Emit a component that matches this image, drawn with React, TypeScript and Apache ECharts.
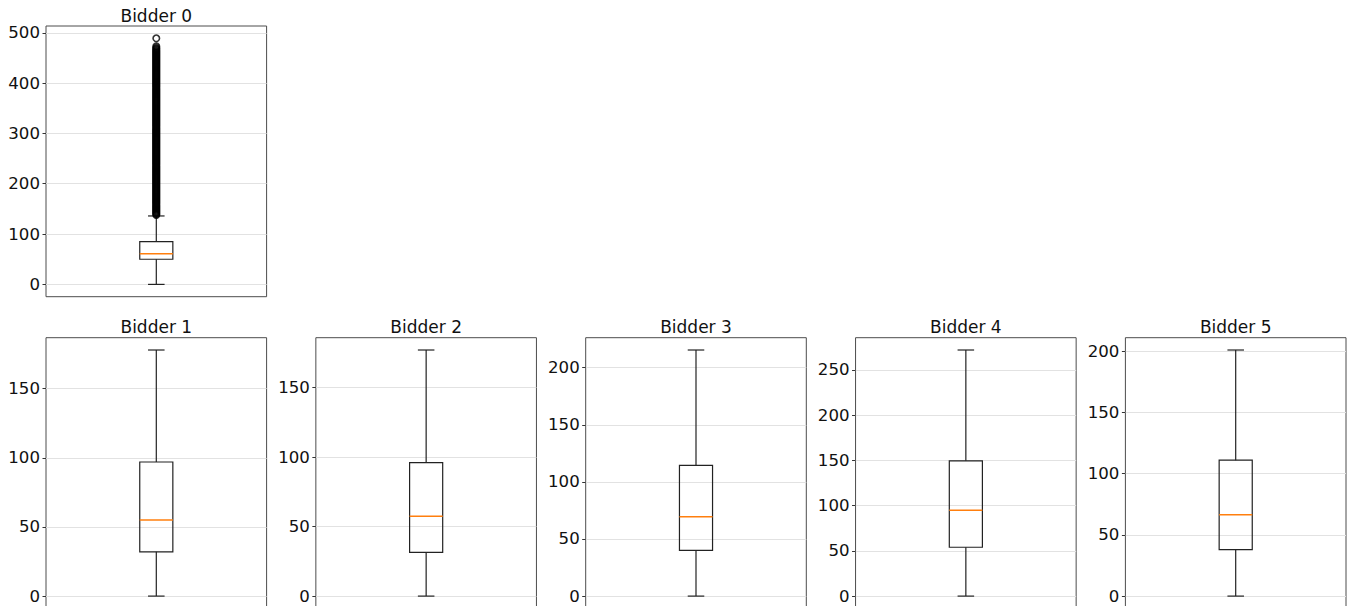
import React, { useEffect, useRef } from "react";
import * as echarts from "echarts";

// Box statistics: [min whisker, q1, median, q3, max whisker]
const bidderNames = ["Bidder 0", "Bidder 1", "Bidder 2", "Bidder 3", "Bidder 4", "Bidder 5"];
const box0 = [0, 50, 61, 85, 136];
const box1 = [0, 32, 55, 97, 178];
const box2 = [0, 31.5, 57.5, 96, 177];
const box3 = [0, 40, 69.5, 114.5, 215.5];
const box4 = [0, 54, 95, 149.5, 272];
const box5 = [0, 38, 66.5, 111, 201];

// Outliers of Bidder 0 (a dense cloud above the upper whisker)
const outliers0 = [
  138, 140, 142, 144, 146, 148, 150, 152, 154, 156, 158, 160, 162, 164, 166,
  168, 170, 172, 174, 176, 178, 180, 182, 184, 186, 188, 190, 192, 194, 196,
  198, 200, 202, 204, 206, 208, 210, 212, 214, 216, 218, 220, 222, 224, 226,
  228, 230, 232, 234, 236, 238, 240, 242, 244, 246, 248, 250, 252, 254, 256,
  258, 260, 262, 264, 266, 268, 270, 272, 274, 276, 278, 280, 282, 284, 286,
  288, 290, 292, 294, 296, 298, 300, 302, 304, 306, 308, 310, 312, 314, 316,
  318, 320, 322, 324, 326, 328, 330, 332, 334, 336, 338, 340, 342, 344, 346,
  348, 350, 352, 354, 356, 358, 360, 362, 364, 366, 368, 370, 372, 374, 376,
  378, 380, 382, 384, 386, 388, 390, 392, 394, 396, 398, 400, 402, 404, 406,
  408, 410, 412, 414, 416, 418, 420, 422, 424, 426, 428, 430, 432, 434, 436,
  438, 440, 442, 444, 446, 448, 450, 452, 454, 456, 458, 460, 462, 464, 466,
  468, 470, 473, 489,
];

// Tick labels for each subplot
const ticks0 = [0, 100, 200, 300, 400, 500];
const ticks1 = [0, 50, 100, 150];
const ticks2 = [0, 50, 100, 150];
const ticks3 = [0, 50, 100, 150, 200];
const ticks4 = [0, 50, 100, 150, 200, 250];
const ticks5 = [0, 50, 100, 150, 200];

const boxes = [box0, box1, box2, box3, box4, box5];
const outlierSets = [outliers0, [], [], [], [], []];
const tickSets = [ticks0, ticks1, ticks2, ticks3, ticks4, ticks5];

const FONT = "DejaVu Sans";

export default function App() {
  const ref = useRef<HTMLDivElement>(null);

  useEffect(() => {
    document.body.style.margin = "0";
    const chart = echarts.init(ref.current!, null, { renderer: "svg" });

    const axW = 220.6;
    const axH = 270.7;
    const colStep = 269.85;
    const layouts = [
      { left: 46, top: 26 },
      { left: 46, top: 337.7 },
      { left: 46 + colStep, top: 337.7 },
      { left: 46 + colStep * 2, top: 337.7 },
      { left: 46 + colStep * 3, top: 337.7 },
      { left: 46 + colStep * 4, top: 337.7 },
    ];

    const grids: any[] = [];
    const xAxes: any[] = [];
    const yAxes: any[] = [];
    const series: any[] = [];
    const graphics: any[] = [];

    boxes.forEach((b, i) => {
      const outs = outlierSets[i];
      const lo = Math.min(b[0], ...(outs.length ? outs : [b[0]]));
      const hi = Math.max(b[4], ...(outs.length ? outs : [b[4]]));
      const pad = (hi - lo) * 0.05;
      const L = layouts[i];
      grids.push({
        left: L.left,
        top: L.top,
        width: axW,
        height: axH,
        show: true,
        borderColor: "#4d4d4d",
        borderWidth: 1,
        backgroundColor: "transparent",
        containLabel: false,
        outerBoundsMode: "none",
      });
      xAxes.push({
        type: "category",
        gridIndex: i,
        data: [bidderNames[i]],
        boundaryGap: true,
        axisLine: { show: false },
        axisTick: { show: false },
        axisLabel: { show: false },
        splitLine: { show: false },
      });
      yAxes.push({
        type: "value",
        gridIndex: i,
        min: lo - pad,
        max: hi + pad,
        axisLine: { show: false },
        axisTick: {
          show: true,
          length: 3.5,
          customValues: tickSets[i],
          lineStyle: { color: "#333", width: 1 },
        },
        axisLabel: {
          show: true,
          customValues: tickSets[i],
          fontSize: 16.6,
          fontFamily: FONT,
          color: "#111",
          margin: 6,
        },
        splitLine: {
          show: true,
          lineStyle: { color: "#e2e2e2", width: 1 },
        },
      });
      series.push({
        type: "custom",
        xAxisIndex: i,
        yAxisIndex: i,
        data: [[0, b[0], b[1], b[2], b[3], b[4]]],
        encode: { x: 0, y: [1, 2, 3, 4, 5] },
        renderItem: (params: any, api: any) => {
          const xv = api.value(0);
          const pLo = api.coord([xv, api.value(1)]);
          const pQ1 = api.coord([xv, api.value(2)]);
          const pMed = api.coord([xv, api.value(3)]);
          const pQ3 = api.coord([xv, api.value(4)]);
          const pHi = api.coord([xv, api.value(5)]);
          const band = api.size([1, 0])[0];
          const bw = band * 0.15;
          const cw = bw / 2;
          const cx = pLo[0];
          const ls = { stroke: "#222", lineWidth: 1.2 };
          return {
            type: "group",
            children: [
              { type: "line", shape: { x1: cx, y1: pLo[1], x2: cx, y2: pQ1[1] }, style: ls },
              { type: "line", shape: { x1: cx, y1: pQ3[1], x2: cx, y2: pHi[1] }, style: ls },
              { type: "line", shape: { x1: cx - cw / 2, y1: pLo[1], x2: cx + cw / 2, y2: pLo[1] }, style: ls },
              { type: "line", shape: { x1: cx - cw / 2, y1: pHi[1], x2: cx + cw / 2, y2: pHi[1] }, style: ls },
              {
                type: "rect",
                shape: { x: cx - bw / 2, y: pQ3[1], width: bw, height: pQ1[1] - pQ3[1] },
                style: { fill: "none", stroke: "#222", lineWidth: 1.2 },
              },
              {
                type: "line",
                shape: { x1: cx - bw / 2, y1: pMed[1], x2: cx + bw / 2, y2: pMed[1] },
                style: { stroke: "#ff7f0e", lineWidth: 1.5 },
              },
            ],
          };
        },
        z: 3,
      });
      if (outs.length) {
        series.push({
          type: "scatter",
          xAxisIndex: i,
          yAxisIndex: i,
          data: outs.map((v) => [0, v]),
          symbol: "circle",
          symbolSize: 6.5,
          itemStyle: { color: "rgba(0,0,0,0)", borderColor: "#000", borderWidth: 1.6 },
          z: 4,
        });
      }
      graphics.push({
        type: "text",
        x: L.left + axW / 2,
        y: L.top - 10.5,
        style: {
          text: bidderNames[i],
          fontSize: 17,
          fontFamily: FONT,
          fill: "#111",
          textAlign: "center",
          textVerticalAlign: "middle",
        },
      });
    });

    chart.setOption({
      animation: false,
      backgroundColor: "#fff",
      grid: grids,
      xAxis: xAxes,
      yAxis: yAxes,
      series,
      graphic: graphics,
    });

    return () => chart.dispose();
  }, []);

  return (
    <div
      ref={ref}
      style={{ position: "absolute", left: 0, top: 0, width: 1351, height: 606 }}
    />
  );
}
